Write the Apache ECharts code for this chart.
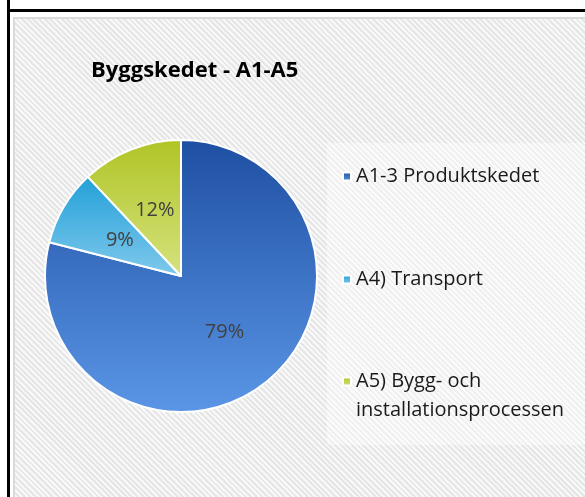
<!DOCTYPE html>
<html>
<head>
<meta charset="utf-8">
<script src="https://cdn.jsdelivr.net/npm/echarts@6/dist/echarts.min.js"></script>
<style>
  html, body { margin: 0; padding: 0; background: #fff; }
  .page { position: relative; width: 585px; height: 497px; overflow: hidden; }
  .vline { position: absolute; left: 7px; top: 0; width: 3px; height: 497px; background: #000; }
  .hline { position: absolute; left: 7px; top: 9px; width: 578px; height: 3px; background: #000; }
  .panel {
    position: absolute; left: 13px; top: 17px; right: 0; bottom: 0;
    border-left: 2px solid #dadada; border-top: 2px solid #dadada;
    background: repeating-linear-gradient(45deg, #f8f8f8 0px, #f8f8f8 2px, #e6e6e6 2px, #e6e6e6 4px);
  }
  #chart { position: absolute; left: 0; top: 0; width: 585px; height: 497px; }
</style>
</head>
<body>
<div class="page">
  <div class="vline"></div>
  <div class="hline"></div>
  <div class="panel"></div>
  <div id="chart"></div>
</div>
<script>
const title = 'Byggskedet - A1-A5'
const categories = ['A1-3 Produktskedet', 'A4) Transport', 'A5) Bygg- och\ninstallationsprocessen']
const values = [79, 9, 12]
const gradients = [
  ['#1e4fa2', '#5b96e6'],
  ['#23a0d8', '#80c9ec'],
  ['#b0c426', '#d6e27e']
]

const chart = echarts.init(document.getElementById('chart'))
const fontFamily = '"Open Sans", "Noto Sans", sans-serif'

const pieData = categories.map((name, i) => ({
  name,
  value: values[i],
  itemStyle: {
    color: new echarts.graphic.LinearGradient(0, 0, 0, 1, [
      { offset: 0, color: gradients[i][0] },
      { offset: 1, color: gradients[i][1] }
    ])
  }
}))

// one legend per entry so each can sit where the reference has it
const legendTops = [162, 265, 338]
const legends = categories.map((name, i) => ({
  left: 342,
  top: legendTops[i],
  orient: 'vertical',
  padding: 0,
  itemWidth: 8,
  itemHeight: 8,
  icon: 'rect',
  selectedMode: false,
  data: [name],
  // blank first line keeps the marker level with the first text line
  formatter: n => (n.indexOf('\n') >= 0 ? ' \n' + n : n),
  textStyle: {
    fontFamily,
    fontSize: 20,
    color: '#1a1a1a',
    lineHeight: 29
  }
}))

const option = {
  backgroundColor: 'transparent',
  animation: false,
  title: {
    text: title,
    left: 91,
    top: 60,
    padding: 0,
    textStyle: {
      fontFamily,
      fontSize: 22,
      fontWeight: 'bold',
      color: '#000'
    }
  },
  graphic: [{
    type: 'rect',
    left: 327,
    top: 143,
    shape: { width: 258, height: 302 },
    style: { fill: 'rgba(255,255,255,0.4)' },
    silent: true
  }],
  legend: legends,
  series: [{
    type: 'pie',
    center: [181, 276],
    radius: 136,
    startAngle: 90,
    clockwise: true,
    data: pieData,
    itemStyle: {
      borderColor: '#fff',
      borderWidth: 2
    },
    label: {
      position: 'inner',
      formatter: '{c}%',
      fontFamily,
      fontSize: 20,
      color: '#404040'
    },
    labelLine: { show: false },
    emphasis: { disabled: true }
  }]
}

chart.setOption(option)
</script>
</body>
</html>
